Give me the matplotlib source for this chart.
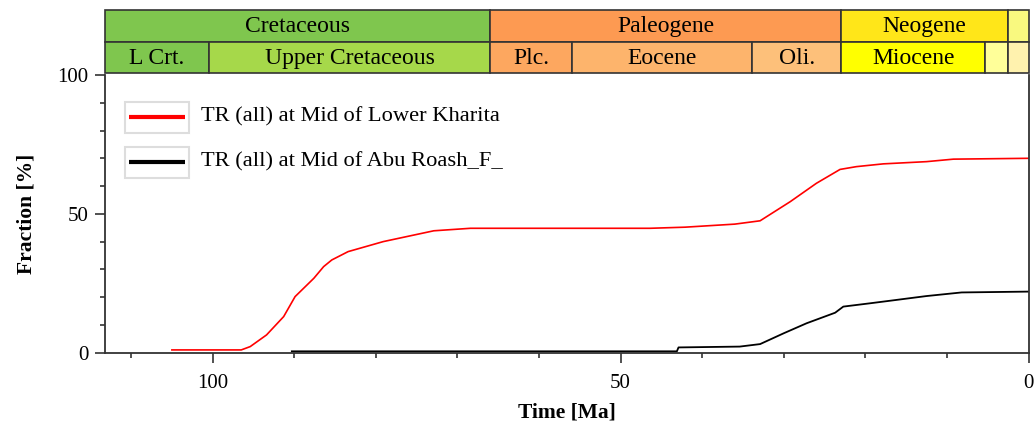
import matplotlib
matplotlib.use("Agg")
import matplotlib.pyplot as plt
from matplotlib.patches import Rectangle
from matplotlib.ticker import MultipleLocator

plt.rcParams['font.family'] = ['Liberation Serif', 'DejaVu Serif']

# Transformation ratio curves (time in Ma, fraction in %)
kharita_time = [105, 96.5, 95.4, 93.4, 91.3, 89.9, 87.6, 86.4, 85.4, 83.4, 79.1, 72.9,
                68.4, 64.8, 46.4, 42.1, 36, 32.9, 29.2, 26, 23.1, 21.1, 17.8, 12.5, 9.2, 0]
kharita_tr = [1.0, 1.0, 2.2, 6.4, 13, 20.2, 26.8, 31, 33.4, 36.4, 40, 43.9,
              44.8, 44.8, 44.8, 45.2, 46.3, 47.5, 54.4, 61, 66, 67, 68, 68.8, 69.7, 70]

abu_time = [90.3, 43.1, 42.9, 35.4, 32.9, 30, 27.2, 23.7, 22.7, 19.4, 17, 12.5, 8.2, 0]
abu_tr = [0.5, 0.5, 1.9, 2.2, 3.1, 7, 10.6, 14.4, 16.6, 17.8, 18.7, 20.4, 21.7, 22]

series_labels = ["TR (all) at Mid of Lower Kharita", "TR (all) at Mid of Abu Roash_F_"]
series_colors = ["#ff0000", "#000000"]

# Geologic time scale (start, end, label, color)
x_max = 113.2
periods = [
    (x_max, 66.0, "Cretaceous", "#7fc64e"),
    (66.0, 23.03, "Paleogene", "#fd9a52"),
    (23.03, 2.58, "Neogene", "#ffe619"),
    (2.58, 0.0, "", "#f9f97f"),
]
epochs = [
    (x_max, 100.5, "L Crt.", "#7fc64e"),
    (100.5, 66.0, "Upper Cretaceous", "#a6d84a"),
    (66.0, 56.0, "Plc.", "#fda75f"),
    (56.0, 33.9, "Eocene", "#fdb46c"),
    (33.9, 23.03, "Oli.", "#fdc07a"),
    (23.03, 5.33, "Miocene", "#ffff00"),
    (5.33, 2.58, "", "#ffff99"),
    (2.58, 0.0, "", "#fff2ae"),
]

W, H = 1036, 432
fig = plt.figure(figsize=(W / 100, H / 100), dpi=100)

left, right, top, bottom = 105, 1028.5, 75, 352.7
ax = fig.add_axes([left / W, 1 - bottom / H, (right - left) / W, (bottom - top) / H])

ax.plot(kharita_time, kharita_tr, color=series_colors[0], lw=1.2)
ax.plot(abu_time, abu_tr, color=series_colors[1], lw=1.3)

ax.set_xlim(x_max, 0)
ax.set_ylim(0, 100)
ax.xaxis.set_major_locator(MultipleLocator(50))
ax.xaxis.set_minor_locator(MultipleLocator(10))
ax.yaxis.set_major_locator(MultipleLocator(50))
ax.yaxis.set_minor_locator(MultipleLocator(10))
ax.tick_params(which='major', direction='out', length=7, width=1.2, color='#333333',
               labelsize=15)
ax.tick_params(axis='x', which='major', pad=8)
ax.tick_params(axis='y', which='major', pad=5)
ax.tick_params(which='minor', direction='out', length=3.8, width=1.2, color='#333333')
ax.spines['top'].set_visible(False)
for s in ['left', 'right', 'bottom']:
    ax.spines[s].set_color('#333333')
    ax.spines[s].set_linewidth(1.3)

ax.set_xlabel("Time [Ma]", fontsize=15.5, fontweight='bold', labelpad=7)
ax.set_ylabel("Fraction [%]", fontsize=15.5, fontweight='bold', labelpad=15)

# legend: each entry in its own light box, no outer frame
for i, (lab, col) in enumerate(zip(series_labels, series_colors)):
    y_top = 0.904 - i * 0.162
    ax.add_patch(Rectangle((0.0217, y_top - 0.112), 0.069, 0.112, transform=ax.transAxes,
                           facecolor='white', edgecolor='#dddddd', lw=1.5, zorder=5))
    ax.plot([0.026, 0.087], [y_top - 0.056] * 2, transform=ax.transAxes,
            color=col, lw=3, zorder=6, solid_capstyle='butt')
    ax.text(0.1036, y_top - 0.056, lab, transform=ax.transAxes, fontsize=16.2,
            va='center', ha='left', zorder=6)

# time scale header
hdr = fig.add_axes([105 / W, 1 - 73 / H, (1029 - 105) / W, 63 / H])
hdr.set_xlim(x_max, 0)
hdr.set_ylim(0, 2)
hdr.axis('off')
for row, boxes in ((1, periods), (0, epochs)):
    for start, end, lab, col in boxes:
        hdr.add_patch(Rectangle((end, row), start - end, 1, facecolor=col,
                                edgecolor='#333333', lw=1.2, clip_on=False))
        if lab:
            hdr.text((start + end) / 2, row + 0.47, lab, ha='center', va='center',
                     fontsize=17)

fig.savefig("out.png", dpi=100)
